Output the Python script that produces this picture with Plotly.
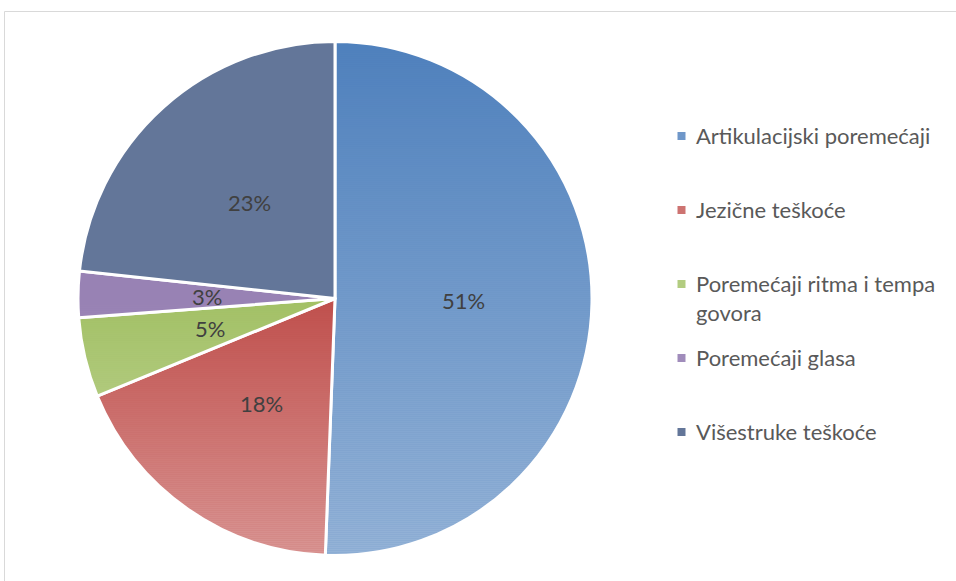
import math
import plotly.graph_objects as go

# ---- data ----
categories = [
    "Artikulacijski poremećaji",
    "Jezične teškoće",
    "Poremećaji ritma i tempa<br>govora",
    "Poremećaji glasa",
    "Višestruke teškoće",
]
shares = [50.6, 18.2, 5.0, 2.9, 23.3]
slice_colors = ["#4F81BD", "#C0504D", "#A3C166", "#9882B4", "#637699"]
legend_colors = ["#6F97C9", "#CD7371", "#B2CC80", "#A08CBB", "#637699"]

# ---- layout geometry (pixels) ----
W, H = 956, 581
CX, CY, R = 335, 298.5, 257
FONT = "Lato, 'Open Sans', sans-serif"
FS = 22


def px(x):
    return x / W


def py(y):
    return 1 - y / H


fig = go.Figure()
fig.add_trace(go.Pie(
    labels=categories,
    values=shares,
    sort=False,
    direction="clockwise",
    rotation=0,
    marker=dict(colors=slice_colors, line=dict(color="white", width=3)),
    textinfo="none",
    showlegend=False,
    domain=dict(x=[px(CX - R), px(CX + R)], y=[py(CY + R), py(CY - R)]),
    hovertemplate="%{label}: %{percent:.0%}<extra></extra>",
))

shapes = []
# chart area frame
shapes.append(dict(type="rect", xref="paper", yref="paper",
                   x0=px(4.5), x1=1.2, y0=-0.2, y1=py(11.5),
                   line=dict(color="#D9D9D9", width=1), fillcolor="rgba(0,0,0,0)",
                   layer="below"))

# vertical light gradient overlay (Excel-like gradient fill)
total = sum(shares)
blue_end = 2 * math.pi * shares[0] / total
dxdy = math.sin(blue_end) / (-math.cos(blue_end))
top, bot = CY - R - 1, CY + R + 1
A = 0.4
step = 2
y = top
while y < bot:
    y2 = min(y + step, bot)
    ym = (y + y2) / 2
    a_r = A * (ym - top) / (bot - top)
    xsplit = CX + (ym - CY) * dxdy if ym > CY else CX
    shapes.append(dict(type="rect", xref="paper", yref="paper",
                       x0=px(xsplit), x1=px(CX + R + 3), y0=py(y2), y1=py(y),
                       line=dict(width=0), fillcolor=f"rgba(255,255,255,{a_r:.4f})",
                       layer="above"))
    if ym > CY:
        a_l = A * (ym - CY) / (bot - CY)
        shapes.append(dict(type="rect", xref="paper", yref="paper",
                           x0=px(CX - R - 3), x1=px(xsplit), y0=py(y2), y1=py(y),
                           line=dict(width=0), fillcolor=f"rgba(255,255,255,{a_l:.4f})",
                           layer="above"))
    y = y2

annotations = []
cum = 0
for v in shares:
    mid = 2 * math.pi * (cum + v / 2) / total
    cum += v
    lx = CX + 0.5 * R * math.sin(mid)
    ly = CY - 0.5 * R * math.cos(mid)
    annotations.append(dict(x=px(lx), y=py(ly), xref="paper", yref="paper",
                            text=f"{round(100 * v / total)}%", showarrow=False,
                            font=dict(family=FONT, size=FS, color="#404040"),
                            xanchor="center", yanchor="middle"))

# legend
LX_SQ, LX_TXT, LY0, LSTEP, SQ = 681.5, 694, 136, 74, 8
for i, (name, col) in enumerate(zip(categories, legend_colors)):
    yc = LY0 + i * LSTEP
    shapes.append(dict(type="rect", xref="paper", yref="paper",
                       x0=px(LX_SQ - SQ / 2), x1=px(LX_SQ + SQ / 2),
                       y0=py(yc + SQ / 2), y1=py(yc - SQ / 2),
                       line=dict(width=0), fillcolor=col))
    annotations.append(dict(x=px(LX_TXT), y=py(yc - 0.65 * FS - 2), xref="paper", yref="paper",
                            text=name, showarrow=False, align="left",
                            font=dict(family=FONT, size=FS, color="#595959"),
                            xanchor="left", yanchor="top"))

fig.update_layout(
    width=W, height=H,
    margin=dict(l=0, r=0, t=0, b=0),
    paper_bgcolor="white", plot_bgcolor="white",
    shapes=shapes, annotations=annotations,
)

fig.write_html(
    "out.html",
    config={"displayModeBar": False},
    post_script="document.body.style.margin='0';document.body.style.overflow='hidden';",
)
